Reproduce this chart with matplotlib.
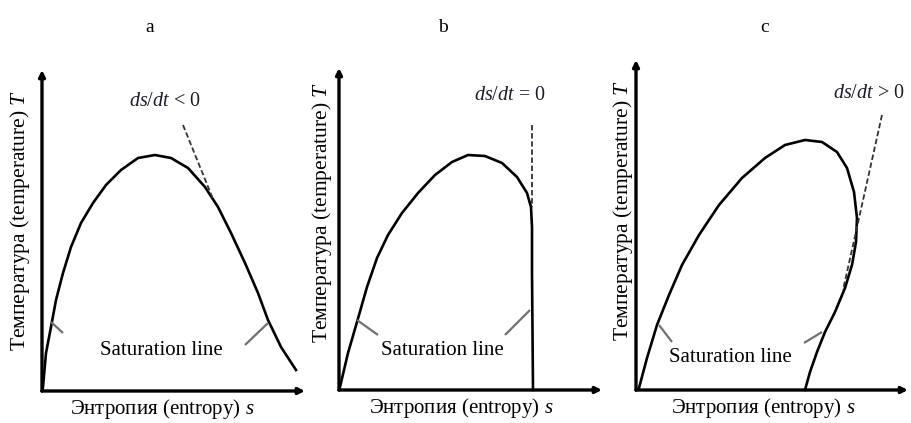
import matplotlib
matplotlib.use('Agg')
import matplotlib.pyplot as plt

plt.rcParams['font.family'] = ['Liberation Serif', 'DejaVu Serif']
plt.rcParams['mathtext.fontset'] = 'custom'
plt.rcParams['mathtext.rm'] = 'Liberation Serif'
plt.rcParams['mathtext.it'] = 'Liberation Serif:italic'

# saturation curves, (entropy s, temperature T) in arbitrary units
s_a = [0, 1, 4, 9, 14, 21, 29, 39, 51, 64, 79, 96, 113, 129, 146, 163, 176, 189, 203, 216, 226, 239, 254]
t_a = [0, 4, 38, 64, 91, 118, 144, 168, 188, 206, 221, 233, 236, 233, 223, 204, 184, 158, 128, 98, 71, 44, 21]

s_b = [0, 1, 9, 18, 28, 38, 49, 63, 79, 96, 113, 129, 146, 163, 178, 188, 192, 193, 193, 194]
t_b = [0, 3, 37, 68, 103, 132, 155, 177, 197, 215, 228, 235, 234, 227, 213, 197, 183, 163, 117, 0]

s_c = [0, 3, 11, 21, 33, 46, 63, 83, 106, 129, 149, 169, 186, 201, 211, 218, 221, 220,
       216, 209, 199, 189, 181, 174, 169]
t_c = [0, 2, 32, 65, 95, 125, 155, 185, 212, 232, 245, 250, 248, 238, 222, 198, 172, 148,
       125, 102, 78, 58, 38, 18, 0]

# dashed tangents
tan_s_a = [141, 171]
tan_t_a = [266, 192]
tan_s_b = [193, 193]
tan_t_b = [265, 183]
tan_s_c = [246, 207]
tan_t_c = [275, 100]

# leader lines to the "Saturation line" label
lead_a = [([9, 21], [69, 58]), ([226, 203], [68, 46])]
lead_b = [([18, 39], [70, 55]), ([191, 166], [80, 55])]
lead_c = [([23, 36], [65, 48]), ([186, 168], [58, 47])]

letters = ['a', 'b', 'c']
slope_labels = ['$ds/dt$ < 0', '$ds/dt$ = 0', '$ds/dt$ > 0']
ylabel = 'Температура (temperature) $T$'
xlabel = 'Энтропия (entropy) $s$'
sat_label = 'Saturation line'

W, H = 912, 423
fig = plt.figure(figsize=(W / 100, H / 100), dpi=100)

# pixel layout: origin x, origin y, axis width, axis height
panels = [
    dict(ox=42, oy=391, w=263, h=321, s=s_a, t=t_a, ts=tan_s_a, tt=tan_t_a, lead=lead_a,
         ylab=(-22, 171), xlab=(120, -18), slab=(123, 289), sat=(119, 41), letter_x=150),
    dict(ox=339, oy=390, w=263, h=322, s=s_b, t=t_b, ts=tan_s_b, tt=tan_t_b, lead=lead_b,
         ylab=(-17, 178), xlab=(122, -18), slab=(171, 295), sat=(103, 40), letter_x=443),
    dict(ox=636, oy=390, w=272, h=330, s=s_c, t=t_c, ts=tan_s_c, tt=tan_t_c, lead=lead_c,
         ylab=(-13, 180), xlab=(127, -18), slab=(233, 297), sat=(94, 33), letter_x=765),
]

for i, p in enumerate(panels):
    ax = fig.add_axes([p['ox'] / W, (H - p['oy']) / H, p['w'] / W, p['h'] / H])
    ax.set_xlim(0, p['w'])
    ax.set_ylim(0, p['h'])
    ax.axis('off')

    # axes with arrows
    ax.annotate('', xy=(0, p['h']), xytext=(0, 0), annotation_clip=False,
                arrowprops=dict(arrowstyle='-|>', lw=2.4, color='black', mutation_scale=9,
                                shrinkA=0, shrinkB=0))
    ax.annotate('', xy=(p['w'], 0), xytext=(0, 0), annotation_clip=False,
                arrowprops=dict(arrowstyle='-|>', lw=2.4, color='black', mutation_scale=9,
                                shrinkA=0, shrinkB=0))

    ax.plot(p['s'], p['t'], color='black', lw=1.9, solid_joinstyle='round', clip_on=False)
    ax.plot(p['ts'], p['tt'], color='#333333', lw=1.3, ls=(0, (3, 1.5)), clip_on=False)
    for ls_, lt_ in p['lead']:
        ax.plot(ls_, lt_, color='#707070', lw=1.6, solid_capstyle='butt', clip_on=False)

    ax.text(*p['sat'], sat_label, fontsize=15, ha='center', va='center')
    ax.text(*p['slab'], slope_labels[i], fontsize=14.5, ha='center', va='center', color='#1c1c2c')
    ax.text(*p['xlab'], xlabel, fontsize=15, ha='center', va='center')
    ax.text(*p['ylab'], ylabel, fontsize=15.5, ha='center', va='center', rotation=90)

    fig.text(p['letter_x'] / W, 1 - 28 / H, letters[i], fontsize=14, ha='center', va='center')

fig.savefig('out.png', dpi=100, facecolor='white')
